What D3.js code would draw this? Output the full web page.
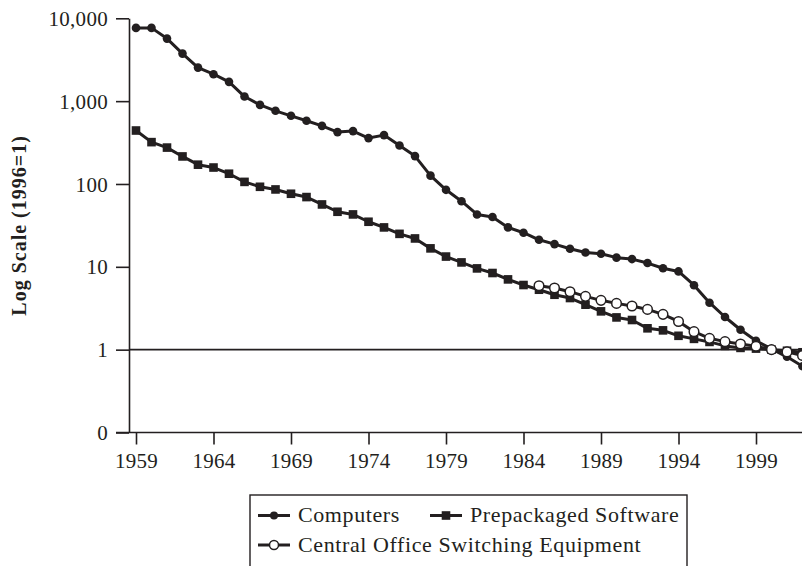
<!DOCTYPE html>
<html>
<head>
<meta charset="utf-8">
<script src="https://cdn.jsdelivr.net/npm/d3@7"></script>
<style>
  html, body { margin: 0; padding: 0; background: #fff; }
  svg { display: block; }
  text { font-family: "Liberation Serif", "Times New Roman", serif; fill: #231f20; }
</style>
</head>
<body>
<svg id="chart" width="802" height="566"></svg>
<script>
// ---- data ----
const computerYears = d3.range(1959, 2003);
const computerValues = [
  7660, 7660, 5690, 3750, 2540, 2115, 1710, 1136, 902, 764,
  665, 579, 503, 423, 435, 358, 389, 291, 217, 126,
  85, 62, 42.9, 39.9, 29.9, 25.8, 21.2, 18.8, 16.5, 14.9,
  14.4, 12.9, 12.4, 11.1, 9.6, 8.8, 6.0, 3.69, 2.48, 1.74,
  1.28, 1.02, 0.82, 0.63
];
const softwareYears = d3.range(1959, 2003);
const softwareValues = [
  442, 320, 275, 215, 171, 158, 133, 106, 92.5, 85.9,
  76.2, 69.5, 56.6, 46.2, 42.9, 35.0, 29.9, 25.0, 22.0, 16.7,
  13.3, 11.3, 9.57, 8.42, 7.05, 6.03, 5.29, 4.6, 4.2, 3.49,
  2.90, 2.45, 2.28, 1.81, 1.71, 1.47, 1.35, 1.24, 1.11, 1.05,
  1.03, 1.0, 0.97, 0.93
];
const switchingYears = d3.range(1985, 2003);
const switchingValues = [
  5.92, 5.55, 5.01, 4.40, 3.94, 3.62, 3.37, 3.06, 2.67, 2.19,
  1.65, 1.37, 1.25, 1.17, 1.10, 1.0, 0.94, 0.85
];
const xTickValues = [1959, 1964, 1969, 1974, 1979, 1984, 1989, 1994, 1999];
const yTickValues = [0.1, 1, 10, 100, 1000, 10000];
const yTickLabels = ["0", "1", "10", "100", "1,000", "10,000"];
const seriesNames = ["Computers", "Prepackaged Software", "Central Office Switching Equipment"];
const yTitle = "Log Scale (1996=1)";

// ---- layout ----
const ink = "#231f20";
const svg = d3.select("#chart");
const x = d3.scaleLinear().domain([1959, 1999]).range([136, 756]);
const y = d3.scaleLog().domain([0.1, 10000]).range([432.5, 18.3]);
const axisX0 = 129, plotRight = 802, axisLeftExt = 116;

// y axis
const yAxis = d3.axisLeft(y)
  .tickValues(yTickValues)
  .tickFormat((d, i) => yTickLabels[i])
  .tickSize(13).tickSizeOuter(0).tickPadding(8);
const gy = svg.append("g").attr("transform", `translate(${axisX0},0)`).call(yAxis);
gy.selectAll("path.domain").attr("stroke", ink).attr("stroke-width", 1.6);
gy.selectAll(".tick line").attr("stroke", ink).attr("stroke-width", 1.6);
gy.selectAll(".tick text").attr("font-size", 21).attr("letter-spacing", 0.3)
  .style("font-family", '"Liberation Serif", serif').attr("fill", ink).attr("dy", "0.34em");

// x axis
const xAxis = d3.axisBottom(x)
  .tickValues(xTickValues)
  .tickFormat(d3.format("d"))
  .tickSize(12).tickSizeOuter(0).tickPadding(8);
const gx = svg.append("g").attr("transform", `translate(0,${y(0.1)})`).call(xAxis);
gx.select("path.domain").remove();
gx.selectAll(".tick line").attr("stroke", ink).attr("stroke-width", 1.6);
gx.selectAll(".tick text").attr("font-size", 21).attr("letter-spacing", 0.3)
  .style("font-family", '"Liberation Serif", serif').attr("fill", ink).attr("dy", "0.75em");
svg.append("line")
  .attr("x1", axisLeftExt).attr("x2", plotRight)
  .attr("y1", y(0.1)).attr("y2", y(0.1))
  .attr("stroke", ink).attr("stroke-width", 1.6);

// reference line at 1
svg.append("line")
  .attr("x1", axisX0).attr("x2", plotRight)
  .attr("y1", y(1)).attr("y2", y(1))
  .attr("stroke", ink).attr("stroke-width", 1.6);

// y title
svg.append("text")
  .attr("transform", `translate(26,${(y(0.1) + y(10000)) / 2 + 0}) rotate(-90)`)
  .attr("text-anchor", "middle")
  .attr("font-size", 20).attr("font-weight", "bold").attr("letter-spacing", 1)
  .text(yTitle);

// ---- series ----
const line = d3.line().x(d => x(d[0])).y(d => y(d[1]));
function zip(a, b) { return a.map((v, i) => [v, b[i]]); }
const comp = zip(computerYears, computerValues);
const soft = zip(softwareYears, softwareValues);
const swit = zip(switchingYears, switchingValues);

const gData = svg.append("g");
function drawLine(data) {
  gData.append("path").datum(data)
    .attr("d", line).attr("fill", "none")
    .attr("stroke", ink).attr("stroke-width", 3).attr("stroke-linejoin", "round");
}
drawLine(soft);
drawLine(comp);
drawLine(swit);

gData.append("g").selectAll("rect").data(soft).join("rect")
  .attr("x", d => x(d[0]) - 4.3).attr("y", d => y(d[1]) - 4.3)
  .attr("width", 8.6).attr("height", 8.6).attr("fill", ink);
gData.append("g").selectAll("circle").data(comp).join("circle")
  .attr("cx", d => x(d[0])).attr("cy", d => y(d[1])).attr("r", 4.3).attr("fill", ink);
gData.append("g").selectAll("circle").data(swit).join("circle")
  .attr("cx", d => x(d[0])).attr("cy", d => y(d[1])).attr("r", 4.8)
  .attr("fill", "#fff").attr("stroke", ink).attr("stroke-width", 1.5);

// ---- legend ----
const lg = svg.append("g");
lg.append("rect").attr("x", 250).attr("y", 495).attr("width", 437).attr("height", 90)
  .attr("fill", "none").attr("stroke", ink).attr("stroke-width", 1.4);

const legendItems = [
  { name: seriesNames[0], sx: 258, row: 0, kind: "dot" },
  { name: seriesNames[1], sx: 430, row: 0, kind: "square" },
  { name: seriesNames[2], sx: 258, row: 1, kind: "open" }
];
const rowY = [515.5, 545];
legendItems.forEach(it => {
  const cy = rowY[it.row];
  lg.append("line").attr("x1", it.sx).attr("x2", it.sx + 32).attr("y1", cy).attr("y2", cy)
    .attr("stroke", ink).attr("stroke-width", 3);
  const mx = it.sx + 16;
  if (it.kind === "dot") {
    lg.append("circle").attr("cx", mx).attr("cy", cy).attr("r", 4).attr("fill", ink);
  } else if (it.kind === "square") {
    lg.append("rect").attr("x", mx - 4.3).attr("y", cy - 4.3).attr("width", 8.6).attr("height", 8.6).attr("fill", ink);
  } else {
    lg.append("circle").attr("cx", mx).attr("cy", cy).attr("r", 4.5)
      .attr("fill", "#fff").attr("stroke", ink).attr("stroke-width", 1.5);
  }
  lg.append("text").attr("x", it.sx + 40).attr("y", cy + 6.5)
    .attr("font-size", 22).attr("letter-spacing", 0.6)
    .text(it.name);
});
</script>
</body>
</html>
